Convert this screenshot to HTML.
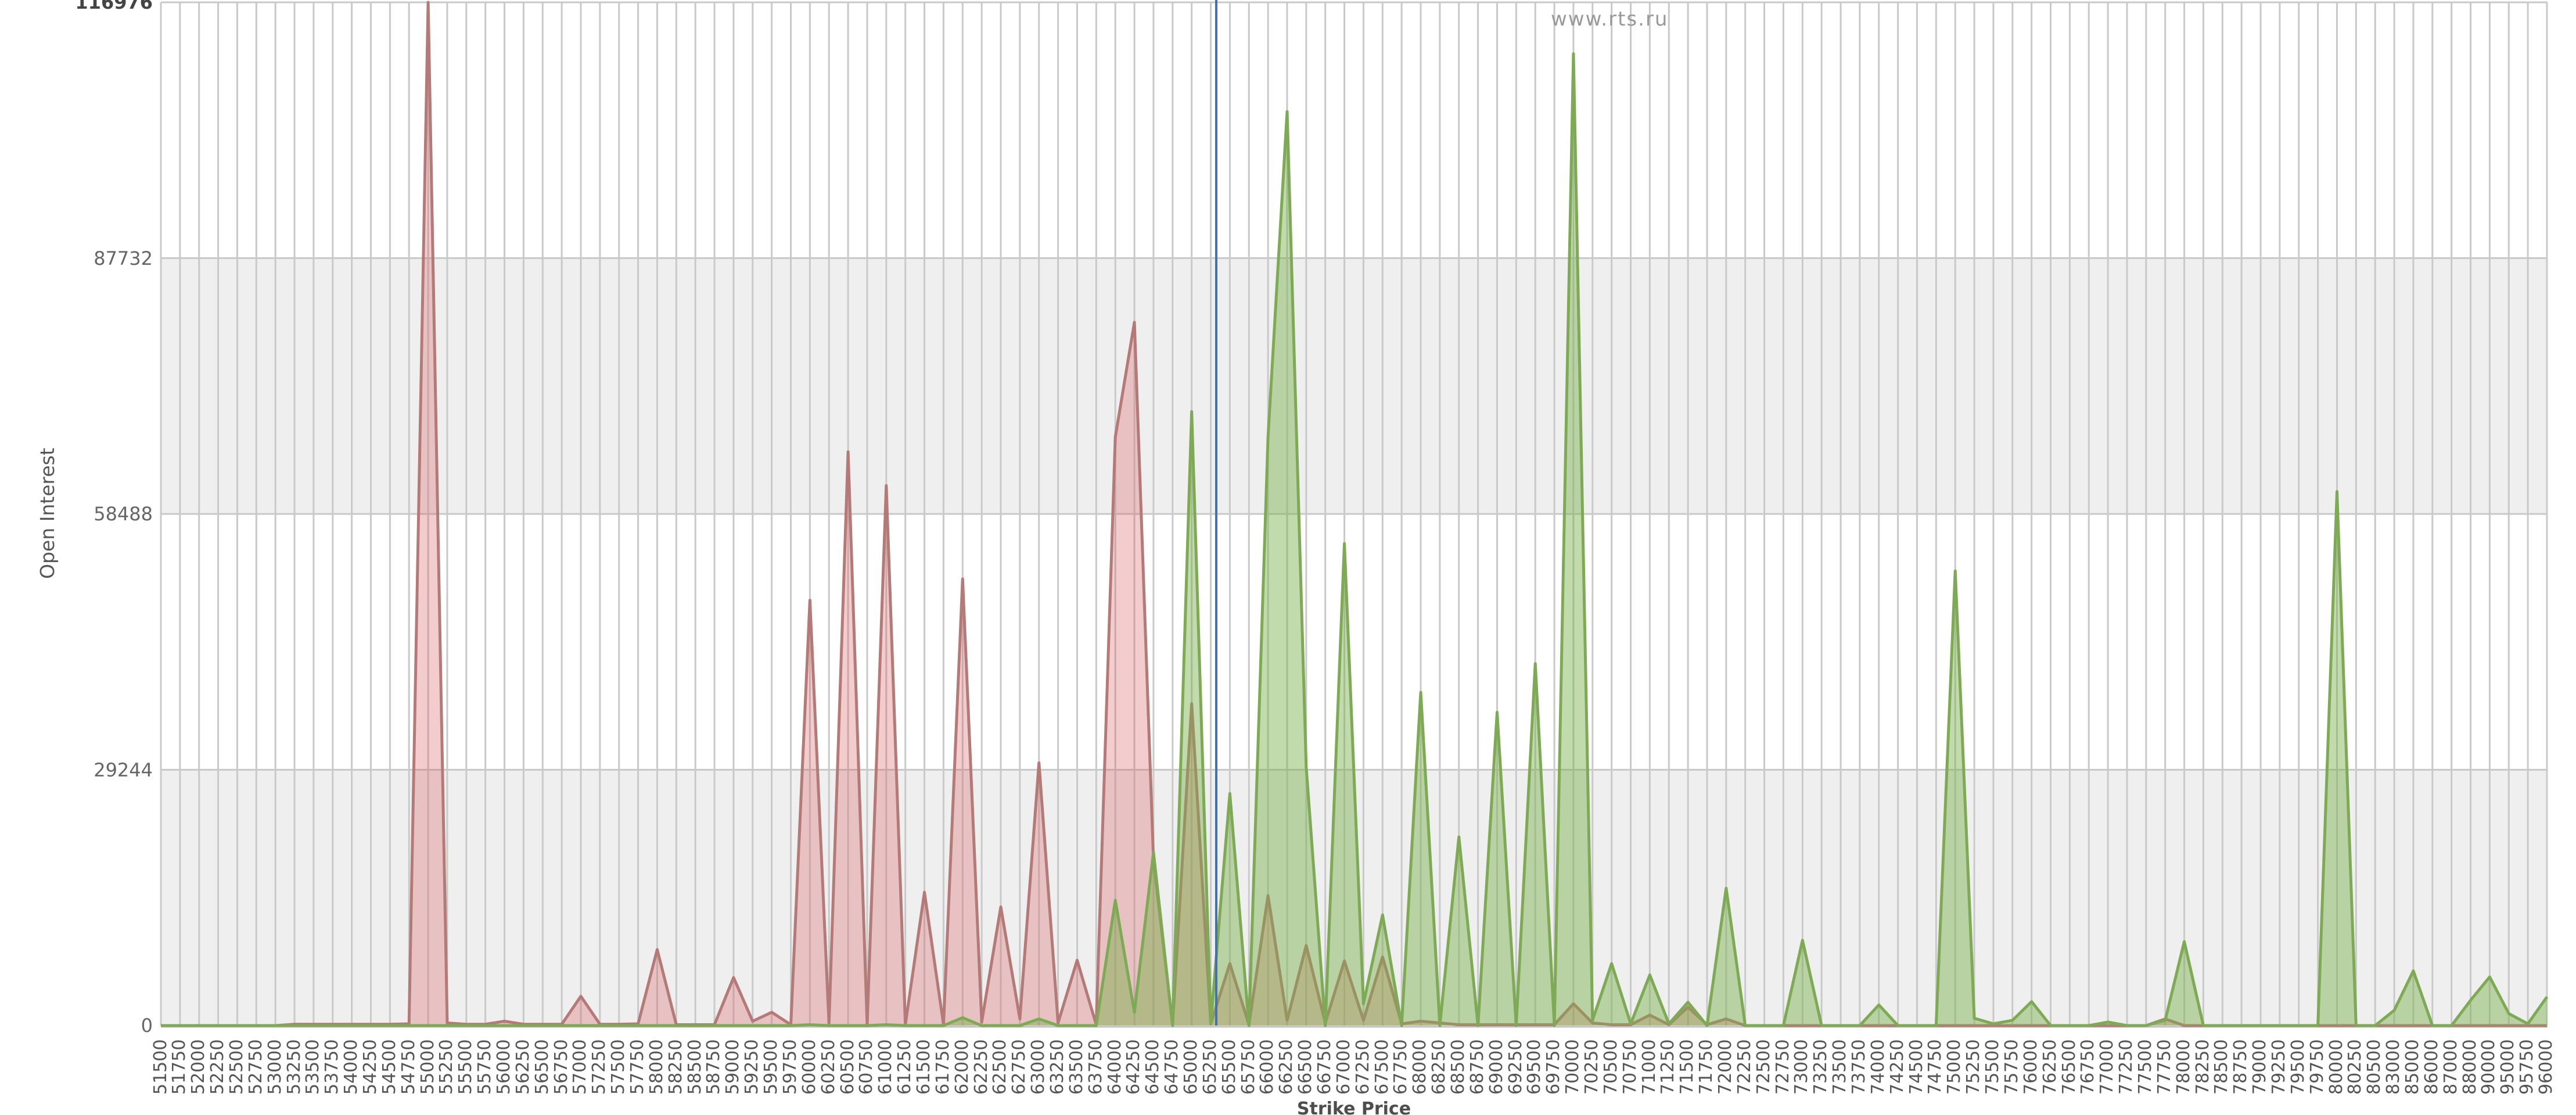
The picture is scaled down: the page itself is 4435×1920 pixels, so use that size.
<!DOCTYPE html>
<html><head><meta charset="utf-8"><style>
html,body{margin:0;padding:0;background:#fff;}
body{width:4435px;height:1920px;overflow:hidden;position:relative;}
svg.main{position:absolute;left:0;top:0;}
.xl{position:absolute;left:260.568px;top:1790px;width:4140.864px;height:110px;display:flex;}
.xl b{flex:0 0 32.864px;width:32.864px;height:104px;writing-mode:vertical-rl;transform:rotate(180deg);text-align:end;font:400 30px "DejaVu Sans","Liberation Sans",sans-serif;line-height:32.864px;color:#555;white-space:nowrap;}
</style></head><body>
<svg class="main" width="4435" height="1920" viewBox="0 0 4435 1920">
<defs>
<pattern id="vg" patternUnits="userSpaceOnUse" x="275.5" y="0" width="32.864" height="1920">
<rect x="0" y="0" width="3" height="1920" fill="#c9c9c9"/>
</pattern>
</defs>
<rect x="0" y="0" width="4435" height="1920" fill="#fff"/>
<rect x="277" y="444.5" width="4109" height="440.5" fill="#efefef"/>
<rect x="277" y="1325.5" width="4109" height="440.5" fill="#efefef"/>
<rect x="274" y="4" width="4114" height="1762" fill="url(#vg)"/>
<g stroke="#c9c9c9" stroke-width="3">
<line x1="277" y1="4" x2="4386" y2="4"/>
<line x1="277" y1="444.5" x2="4386" y2="444.5"/>
<line x1="277" y1="885" x2="4386" y2="885"/>
<line x1="277" y1="1325.5" x2="4386" y2="1325.5"/>
<line x1="277" y1="1768" x2="4386" y2="1768" stroke="#c0c0c0"/>
</g>
<svg x="277" y="4" width="4108" height="1762" viewBox="0 0 125 116976" preserveAspectRatio="none" overflow="visible">
<g transform="translate(0 116976) scale(1 -1)">
<polygon fill="rgba(215,90,90,0.3)" points="0,0 1,0 2,0 3,0 4,0 5,0 6,0 7,150 8,150 9,150 10,150 11,150 12,150 13,200 14,116976 15,300 16,150 17,150 18,500 19,150 20,150 21,150 22,3350 23,150 24,150 25,200 26,8690 27,100 28,100 29,100 30,5490 31,500 32,1520 33,100 34,48620 35,200 36,65600 37,100 38,61730 39,100 40,15240 41,100 42,51060 43,400 44,13560 45,760 46,30030 47,300 48,7470 49,100 50,67290 51,80400 52,18900 53,100 54,36800 55,200 56,7090 57,100 58,14860 59,600 60,9150 61,300 62,7390 63,600 64,7850 65,200 66,500 67,300 68,100 69,100 70,100 71,100 72,100 73,100 74,2500 75,300 76,100 77,100 78,1200 79,100 80,2100 81,100 82,760 83,0 104,0 105,760 106,0 125,0"/>
<polyline fill="none" stroke="#b47a78" stroke-width="5" stroke-linejoin="round" vector-effect="non-scaling-stroke" points="0,0 1,0 2,0 3,0 4,0 5,0 6,0 7,150 8,150 9,150 10,150 11,150 12,150 13,200 14,116976 15,300 16,150 17,150 18,500 19,150 20,150 21,150 22,3350 23,150 24,150 25,200 26,8690 27,100 28,100 29,100 30,5490 31,500 32,1520 33,100 34,48620 35,200 36,65600 37,100 38,61730 39,100 40,15240 41,100 42,51060 43,400 44,13560 45,760 46,30030 47,300 48,7470 49,100 50,67290 51,80400 52,18900 53,100 54,36800 55,200 56,7090 57,100 58,14860 59,600 60,9150 61,300 62,7390 63,600 64,7850 65,200 66,500 67,300 68,100 69,100 70,100 71,100 72,100 73,100 74,2500 75,300 76,100 77,100 78,1200 79,100 80,2100 81,100 82,760 83,0 104,0 105,760 106,0 125,0"/>
<polygon fill="rgba(120,175,70,0.45)" points="0,0 33,0 34,100 35,0 37,0 38,100 39,0 41,0 42,900 43,0 45,0 46,760 47,0 49,0 50,14330 51,1520 52,19810 53,0 54,70190 55,300 56,26520 57,0 58,67290 59,104480 60,29570 61,0 62,55100 63,2500 64,12650 65,0 66,38100 67,0 68,21570 69,0 70,35820 71,0 72,41380 73,0 74,111100 75,600 76,7090 77,200 78,5790 79,200 80,2670 81,0 82,15700 83,0 85,0 86,9750 87,0 89,0 90,2360 91,0 93,0 94,51970 95,840 96,200 97,600 98,2740 99,0 101,0 102,400 103,0 104,0 105,600 106,9600 107,0 113,0 114,61040 115,0 116,0 117,1750 118,6250 119,0 120,0 121,2900 122,5560 123,1370 124,200 125,3280 125,0"/>
<polyline fill="none" stroke="#7eaa56" stroke-width="5" stroke-linejoin="round" vector-effect="non-scaling-stroke" points="0,0 33,0 34,100 35,0 37,0 38,100 39,0 41,0 42,900 43,0 45,0 46,760 47,0 49,0 50,14330 51,1520 52,19810 53,0 54,70190 55,300 56,26520 57,0 58,67290 59,104480 60,29570 61,0 62,55100 63,2500 64,12650 65,0 66,38100 67,0 68,21570 69,0 70,35820 71,0 72,41380 73,0 74,111100 75,600 76,7090 77,200 78,5790 79,200 80,2670 81,0 82,15700 83,0 85,0 86,9750 87,0 89,0 90,2360 91,0 93,0 94,51970 95,840 96,200 97,600 98,2740 99,0 101,0 102,400 103,0 104,0 105,600 106,9600 107,0 113,0 114,61040 115,0 116,0 117,1750 118,6250 119,0 120,0 121,2900 122,5560 123,1370 124,200 125,3280"/>
</g>
</svg>
<line x1="2094" y1="0" x2="2094" y2="1766" stroke="#4572a7" stroke-width="4"/>
<text x="2670" y="44" font-family="DejaVu Sans, Liberation Sans, sans-serif" font-size="34" letter-spacing="2" fill="#999">www.rts.ru</text>
<g font-family="DejaVu Sans, Liberation Sans, sans-serif" font-size="32" fill="#666" text-anchor="end">
<text x="263" y="15" font-weight="bold" fill="#444">116976</text>
<text x="263" y="456">87732</text>
<text x="263" y="896">58488</text>
<text x="263" y="1337">29244</text>
<text x="263" y="1777">0</text>
</g>
<text x="93" y="884" transform="rotate(-90 93 884)" text-anchor="middle" font-family="DejaVu Sans, Liberation Sans, sans-serif" font-size="33" fill="#555">Open Interest</text>
<text x="2331" y="1919" text-anchor="middle" font-family="DejaVu Sans, Liberation Sans, sans-serif" font-size="30" font-weight="bold" fill="#4d4d4d">Strike Price</text>
</svg>
<div class="xl"><b>51500</b><b>51750</b><b>52000</b><b>52250</b><b>52500</b><b>52750</b><b>53000</b><b>53250</b><b>53500</b><b>53750</b><b>54000</b><b>54250</b><b>54500</b><b>54750</b><b>55000</b><b>55250</b><b>55500</b><b>55750</b><b>56000</b><b>56250</b><b>56500</b><b>56750</b><b>57000</b><b>57250</b><b>57500</b><b>57750</b><b>58000</b><b>58250</b><b>58500</b><b>58750</b><b>59000</b><b>59250</b><b>59500</b><b>59750</b><b>60000</b><b>60250</b><b>60500</b><b>60750</b><b>61000</b><b>61250</b><b>61500</b><b>61750</b><b>62000</b><b>62250</b><b>62500</b><b>62750</b><b>63000</b><b>63250</b><b>63500</b><b>63750</b><b>64000</b><b>64250</b><b>64500</b><b>64750</b><b>65000</b><b>65250</b><b>65500</b><b>65750</b><b>66000</b><b>66250</b><b>66500</b><b>66750</b><b>67000</b><b>67250</b><b>67500</b><b>67750</b><b>68000</b><b>68250</b><b>68500</b><b>68750</b><b>69000</b><b>69250</b><b>69500</b><b>69750</b><b>70000</b><b>70250</b><b>70500</b><b>70750</b><b>71000</b><b>71250</b><b>71500</b><b>71750</b><b>72000</b><b>72250</b><b>72500</b><b>72750</b><b>73000</b><b>73250</b><b>73500</b><b>73750</b><b>74000</b><b>74250</b><b>74500</b><b>74750</b><b>75000</b><b>75250</b><b>75500</b><b>75750</b><b>76000</b><b>76250</b><b>76500</b><b>76750</b><b>77000</b><b>77250</b><b>77500</b><b>77750</b><b>78000</b><b>78250</b><b>78500</b><b>78750</b><b>79000</b><b>79250</b><b>79500</b><b>79750</b><b>80000</b><b>80250</b><b>80500</b><b>83000</b><b>85000</b><b>86000</b><b>87000</b><b>88000</b><b>90000</b><b>95000</b><b>95750</b><b>96000</b></div>
</body></html>
